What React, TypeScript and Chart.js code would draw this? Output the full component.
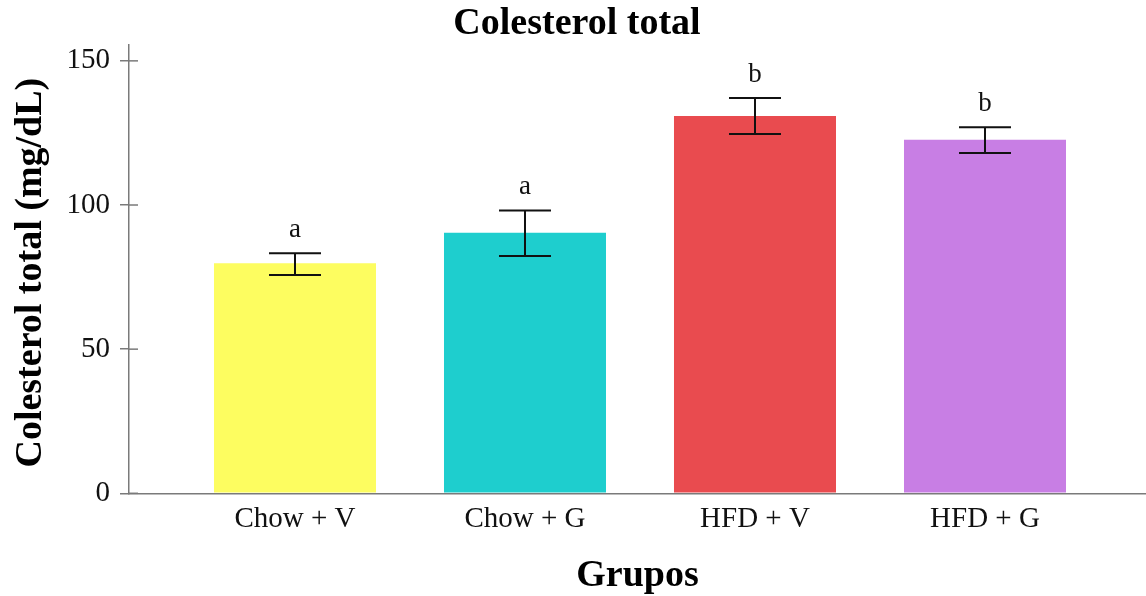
import React, { useEffect, useRef } from "react";
import { Chart, registerables } from "chart.js";

Chart.register(...registerables);

// Groups and mean total cholesterol (mg/dL) with error bar bounds
const categories = ["Chow + V", "Chow + G", "HFD + V", "HFD + G"];
const means = [79.8, 90.4, 130.9, 122.6];
const errLow = [75.7, 82.3, 124.6, 118.0];
const errHigh = [83.3, 98.1, 137.1, 127.0];
const letters = ["a", "a", "b", "b"];
const yTicks = [0, 50, 100, 150];
const barColors = ["#FDFD60", "#1ECECE", "#E94B4F", "#C87EE4"];

const chartTitle = "Colesterol total";
const yTitle = "Colesterol total (mg/dL)";
const xTitle = "Grupos";

const SERIF = "'Liberation Serif', 'Times New Roman', serif";
const AXIS_GRAY = "#7a7a7a";

const annotationsPlugin = {
  id: "annotations",
  afterDatasetsDraw(chart: any) {
    const { ctx, scales, chartArea } = chart;
    const xs = scales.x;
    const ys = scales.y;
    ctx.save();
    // short tick marks on the inside of the y axis
    ctx.strokeStyle = AXIS_GRAY;
    ctx.lineWidth = 1.5;
    yTicks.forEach((t) => {
      const py = ys.getPixelForValue(t);
      ctx.beginPath();
      ctx.moveTo(chartArea.left, py);
      ctx.lineTo(chartArea.left + 9, py);
      ctx.stroke();
    });
    // error bars and significance letters
    ctx.strokeStyle = "#111";
    ctx.lineWidth = 2;
    ctx.fillStyle = "#111";
    ctx.font = `27px ${SERIF}`;
    ctx.textAlign = "center";
    ctx.textBaseline = "alphabetic";
    categories.forEach((_, i) => {
      const px = xs.getPixelForValue(i);
      const hi = ys.getPixelForValue(errHigh[i]);
      const lo = ys.getPixelForValue(errLow[i]);
      const cap = 26;
      ctx.beginPath();
      ctx.moveTo(px, hi);
      ctx.lineTo(px, lo);
      ctx.moveTo(px - cap, hi);
      ctx.lineTo(px + cap, hi);
      ctx.moveTo(px - cap, lo);
      ctx.lineTo(px + cap, lo);
      ctx.stroke();
      ctx.fillText(letters[i], px, hi - 16);
    });

    // chart title and rotated y-axis title
    ctx.fillStyle = "#000";
    ctx.font = `bold 38px ${SERIF}`;
    ctx.fillText(chartTitle, 577, 34);
    ctx.translate(41, (chartArea.top + chartArea.bottom) / 2 + 3.5);
    ctx.rotate(-Math.PI / 2);
    ctx.fillText(yTitle, 0, 0);
    ctx.restore();
  },
};

export default function App() {
  const canvasRef = useRef<HTMLCanvasElement | null>(null);

  useEffect(() => {
    if (!canvasRef.current) return;
    const chart = new Chart(canvasRef.current, {
      type: "bar",
      data: {
        datasets: [
          {
            data: means.map((v, i) => ({ x: i, y: v })),
            backgroundColor: barColors,
            borderWidth: 0,
            barPercentage: 1,
            categoryPercentage: 162 / 230,
          },
        ],
      },
      options: {
        responsive: false,
        animation: false,
        layout: { padding: { top: 45, left: 0, right: 0, bottom: 0 } },
        plugins: {
          legend: { display: false },
          tooltip: { enabled: false },
          title: { display: false },
        },
        scales: {
          x: {
            type: "linear",
            offset: false,
            min: -0.7217,
            max: 3.7,
            afterBuildTicks: (scale: any) => {
              scale.ticks = categories.map((_, i) => ({ value: i }));
            },
            afterFit: (scale: any) => {
              scale.height = 102.7;
            },
            grid: { display: true, offset: false, drawOnChartArea: false, drawTicks: false },
            border: { display: true, color: AXIS_GRAY, width: 1.5 },
            ticks: {
              color: "#111",
              font: { family: SERIF, size: 29 },
              padding: 9,
              maxRotation: 0,
              autoSkip: false,
              callback: (v: any) => categories[v as number] ?? "",
            },
            title: {
              display: true,
              text: xTitle,
              color: "#000",
              font: { family: SERIF, size: 38, weight: "bold", lineHeight: 1.05 },
              padding: { top: 0, bottom: 0 },
            },
          },
          y: {
            min: 0,
            max: 155.5,
            afterBuildTicks: (scale: any) => {
              scale.ticks = yTicks.map((v) => ({ value: v }));
            },
            afterFit: (scale: any) => {
              scale.width = 129;
            },
            grid: {
              drawOnChartArea: false,
              drawTicks: true,
              tickLength: 9,
              color: AXIS_GRAY,
              lineWidth: 1.5,
            },
            border: { display: true, color: AXIS_GRAY, width: 1.5 },
            ticks: {
              color: "#111",
              font: { family: SERIF, size: 29 },
              padding: 10,
            },
            title: { display: false },
          },
        },
      },
      plugins: [annotationsPlugin],
    });
    return () => chart.destroy();
  }, []);

  return (
    <div style={{ position: "fixed", left: 0, top: 0, width: 1146, height: 596, background: "#fff" }}>
      <canvas ref={canvasRef} width={1146} height={596} style={{ display: "block" }} />
    </div>
  );
}
